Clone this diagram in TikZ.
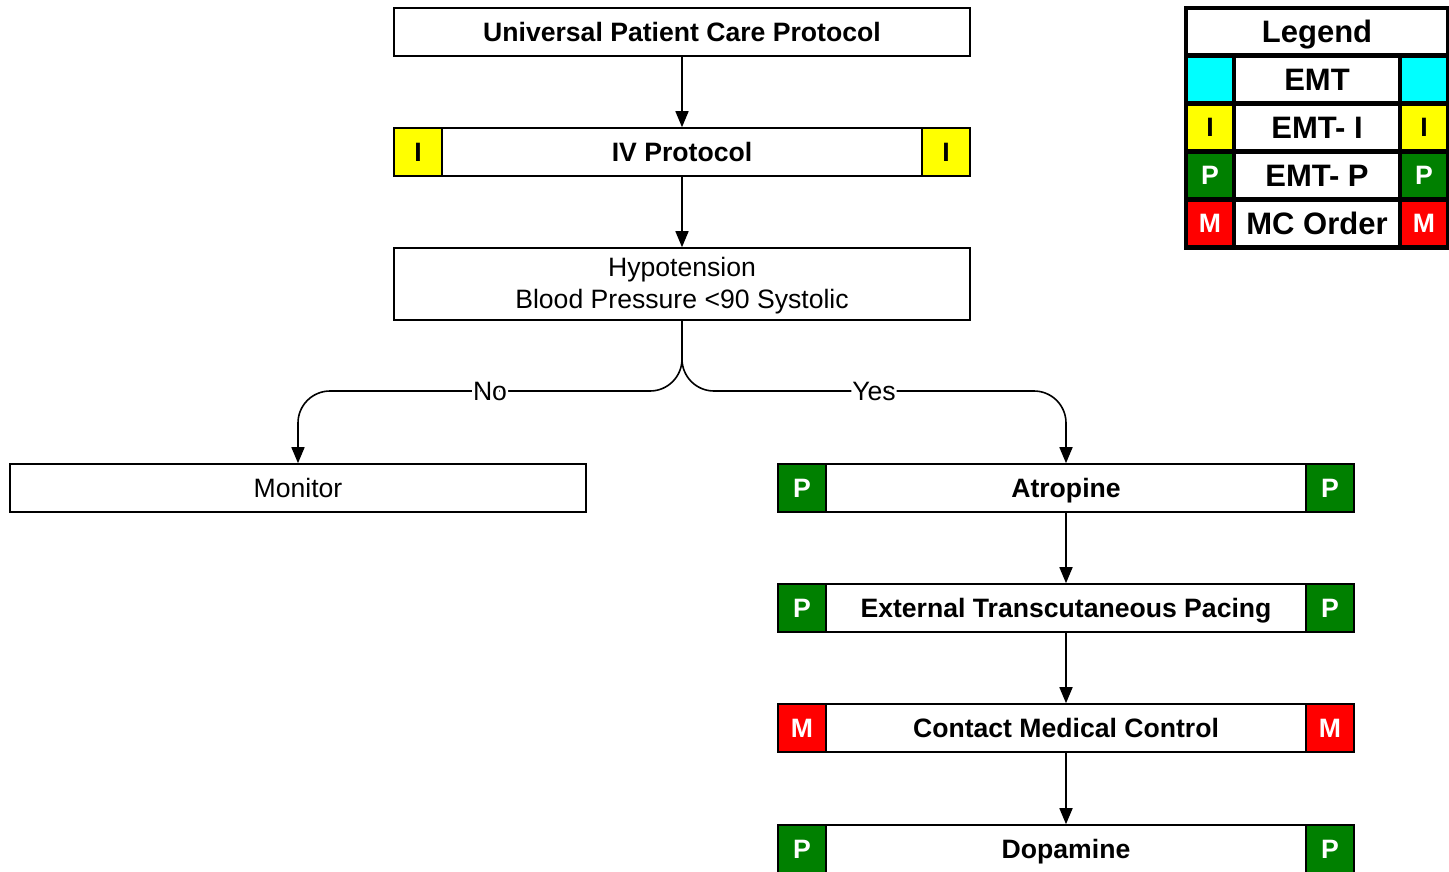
\documentclass[tikz,border=0pt]{standalone}
\usepackage{fontspec}
\setmainfont{Liberation Sans}
\usetikzlibrary{arrows.meta}
\definecolor{cgreen}{HTML}{008000}
\definecolor{cyel}{HTML}{FFFF00}
\definecolor{ccyan}{HTML}{00FFFF}
\definecolor{cred}{HTML}{FF0000}
\begin{document}
\begin{tikzpicture}[x=1pt,y=-1pt,
  box/.style={draw,line width=1.6pt,minimum width=576pt,minimum height=48pt,inner sep=0pt,fill=white,
    text height=20pt,text depth=2pt,font=\fontsize{26.6}{32}\selectfont},
  bbox/.style={box,font=\fontsize{26.6}{32}\selectfont\bfseries},
  badge/.style={draw,line width=1.6pt,minimum width=48pt,minimum height=48pt,inner sep=0pt,
    text height=20pt,text depth=2pt,font=\fontsize{26.6}{32}\selectfont\bfseries},
  bP/.style={badge,fill=cgreen,text=white},
  bI/.style={badge,fill=cyel,text=black},
  bM/.style={badge,fill=cred,text=white},
  arr/.style={line width=1.6pt,-{Triangle[length=16pt,width=13pt]}},
  lbl/.style={fill=white,inner sep=1pt,font=\fontsize{26.6}{32}\selectfont},
  lcell/.style={minimum width=44pt,minimum height=43pt,inner sep=0pt,text height=20pt,text depth=2pt,
    font=\fontsize{26.6}{32}\selectfont\bfseries},
  ltext/.style={fill=white,minimum width=162pt,minimum height=43pt,inner sep=0pt,text height=24pt,text depth=2pt,
    font=\fontsize{31}{36}\selectfont\bfseries}
]
\useasboundingbox (0,0) rectangle (1449,871);
\fill[white] (0,0) rectangle (1449,871);

\node[bbox] (top) at (682,32) {Universal Patient Care Protocol};
\node[bbox] (iv) at (682,152) {IV Protocol};
\node[bI] (ivL) at (418,152) {I};
\node[bI] (ivR) at (946,152) {I};
\node[box,minimum height=72pt] (hyp) at (682,284) {};
\node[align=center,inner sep=0pt,font=\fontsize{26.6}{32}\selectfont] (hypt) at (682,286) {Hypotension\\Blood Pressure <90 Systolic};
\node[box] (mon) at (298,488) {Monitor};
\node[bbox] (atr) at (1066,488) {Atropine};
\node[bP] (atrL) at (802,488) {P};
\node[bP] (atrR) at (1330,488) {P};
\node[bbox] (ext) at (1066,608) {External Transcutaneous Pacing};
\node[bP] (extL) at (802,608) {P};
\node[bP] (extR) at (1330,608) {P};
\node[bbox] (cmc) at (1066,728) {Contact Medical Control};
\node[bM] (cmcL) at (802,728) {M};
\node[bM] (cmcR) at (1330,728) {M};
\node[bbox] (dop) at (1066,849) {Dopamine};
\node[bP] (dopL) at (802,849) {P};
\node[bP] (dopR) at (1330,849) {P};

\coordinate (split) at (682,391);
\draw[arr] (top) -- (iv);
\draw[arr] (iv) -- (hyp);
\draw[arr,rounded corners=32pt] (hyp.south) -- (split) -| node[pos=0.25,lbl] {No} (mon.north);
\draw[arr,rounded corners=32pt] (hyp.south) -- (split) -| node[pos=0.25,lbl] {Yes} (atr.north);
\draw[arr] (atr) -- (ext);
\draw[arr] (ext) -- (cmc);
\draw[arr] (cmc) -- (dop);

% legend
\node[fill=black,minimum width=266pt,minimum height=244pt,inner sep=0pt] (leg) at (1317,128) {};
\node[fill=white,minimum width=258pt,minimum height=43pt,inner sep=0pt,text height=24pt,text depth=2pt,
  font=\fontsize{31}{36}\selectfont\bfseries] (legT) at (1317,31.5) {Legend};
\node[lcell,fill=ccyan] (l1a) at (1210,79.5) {};
\node[ltext] (l1b) at (1317,79.5) {EMT};
\node[lcell,fill=ccyan] (l1c) at (1424,79.5) {};
\node[lcell,fill=cyel] (l2a) at (1210,127.5) {I};
\node[ltext] (l2b) at (1317,127.5) {EMT- I};
\node[lcell,fill=cyel] (l2c) at (1424,127.5) {I};
\node[lcell,fill=cgreen,text=white] (l3a) at (1210,175.5) {P};
\node[ltext] (l3b) at (1317,175.5) {EMT- P};
\node[lcell,fill=cgreen,text=white] (l3c) at (1424,175.5) {P};
\node[lcell,fill=cred,text=white] (l4a) at (1210,223.5) {M};
\node[ltext] (l4b) at (1317,223.5) {MC Order};
\node[lcell,fill=cred,text=white] (l4c) at (1424,223.5) {M};
\end{tikzpicture}
\end{document}
